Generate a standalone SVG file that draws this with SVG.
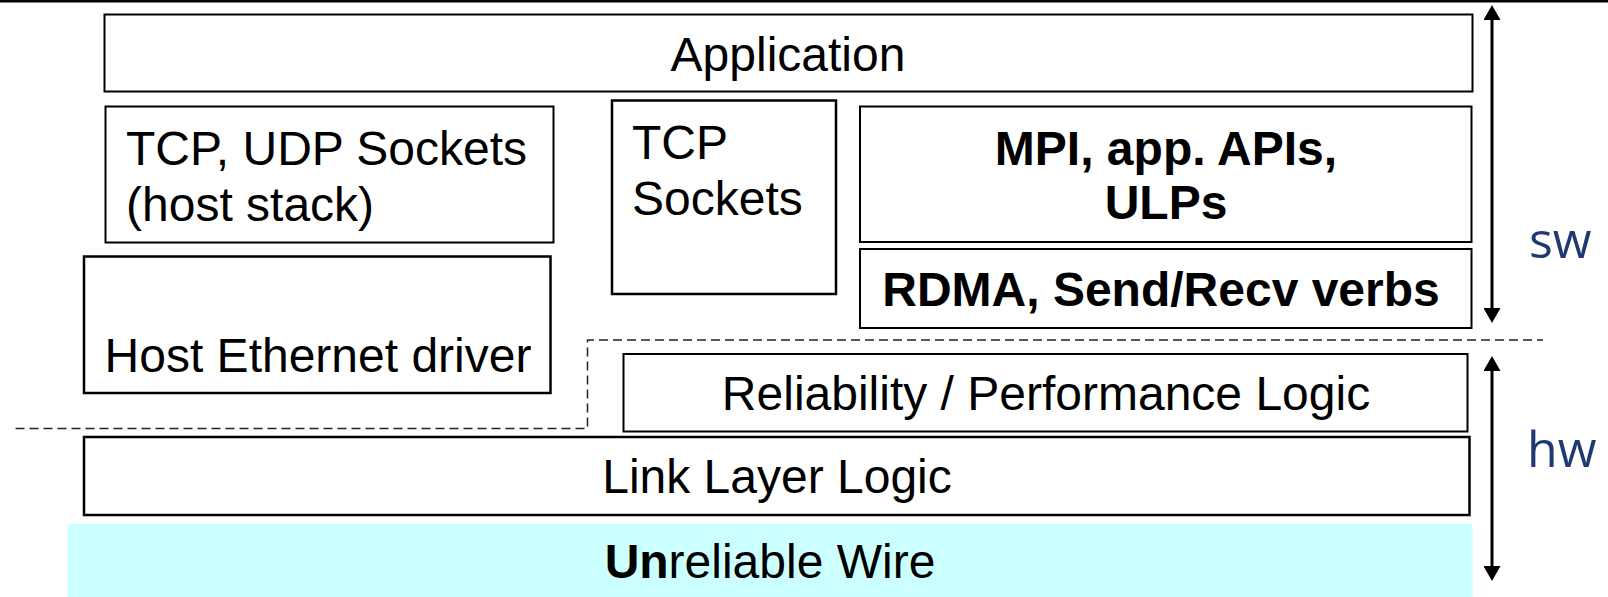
<svg xmlns="http://www.w3.org/2000/svg" width="1608" height="597" viewBox="0 0 1608 597">
  <style>
    .box { fill: #ffffff; stroke: #000000; stroke-width: 2; }
    .wire { fill: #CCFFFF; stroke: none; }
    .t { font-family: "Liberation Sans", Arial, sans-serif; font-size: 48px; fill: #000000; }
    .b { font-weight: bold; }
    .side { font-family: "Open Sans", "Noto Sans", sans-serif; font-size: 50px; fill: #1F3A70; }
    .dash { fill: none; stroke: #222222; stroke-width: 1.5; stroke-dasharray: 9 5; }
    .arrow { stroke: #000000; stroke-width: 3; marker-start: url(#ah); marker-end: url(#ah); }
  </style>
  <defs>
    <marker id="ah" viewBox="0 0 15 17" refX="10" refY="8.5" markerWidth="15" markerHeight="17" markerUnits="userSpaceOnUse" orient="auto-start-reverse">
      <path d="M0,0 L15,8.5 L0,17 Z" fill="#000000"/>
    </marker>
  </defs>

  <rect x="0" y="0" width="1608" height="2.5" fill="#000000"/>

  <g id="application">
    <rect class="box" x="104.5" y="14.5" width="1368" height="77"/>
    <text class="t" x="788" y="71" text-anchor="middle">Application</text>
  </g>

  <g id="tcp-udp-sockets">
    <rect class="box" x="105.5" y="106.5" width="448" height="136"/>
    <text class="t" x="126" y="165">TCP, UDP Sockets</text>
    <text class="t" x="126" y="221">(host stack)</text>
  </g>

  <g id="tcp-sockets">
    <rect class="box" x="612" y="100.5" width="224" height="193.5" style="stroke-width:2.5"/>
    <text class="t" x="632" y="159">TCP</text>
    <text class="t" x="632" y="215">Sockets</text>
  </g>

  <g id="mpi-apis">
    <rect class="box" x="860" y="106.5" width="611.5" height="135.5"/>
    <text class="t b" x="1166" y="165" text-anchor="middle">MPI, app. APIs,</text>
    <text class="t b" x="1166" y="219" text-anchor="middle">ULPs</text>
  </g>

  <g id="rdma-verbs">
    <rect class="box" x="860" y="249" width="611.5" height="79"/>
    <text class="t b" x="1161" y="306" text-anchor="middle">RDMA, Send/Recv verbs</text>
  </g>

  <g id="host-ethernet-driver">
    <rect class="box" x="84" y="256.5" width="466.5" height="136.5" style="stroke-width:2.5"/>
    <text class="t" x="318" y="372" text-anchor="middle">Host Ethernet driver</text>
  </g>

  <g id="reliability-logic">
    <rect class="box" x="623.5" y="354" width="844" height="77.5"/>
    <text class="t" x="1046" y="410" text-anchor="middle">Reliability / Performance Logic</text>
  </g>

  <g id="link-layer-logic">
    <rect class="box" x="84" y="437" width="1385.5" height="78" style="stroke-width:2.5"/>
    <text class="t" x="777" y="493" text-anchor="middle">Link Layer Logic</text>
  </g>

  <g id="unreliable-wire">
    <rect class="wire" x="67.5" y="524" width="1405" height="73"/>
    <text class="t" x="770" y="578" text-anchor="middle"><tspan class="b">Un</tspan>reliable Wire</text>
  </g>

  <g id="boundaries">
    <path class="dash" d="M15.5,428.5 H587.5 V340 H1543"/>
  </g>

  <g id="connectors">
    <line class="arrow" x1="1492" y1="10" x2="1492" y2="318"/>
    <line class="arrow" x1="1492" y1="361" x2="1492" y2="576"/>
  </g>

  <g id="labels">
    <text class="side" x="1529" y="258">sw</text>
    <text class="side" x="1527" y="467">hw</text>
  </g>
</svg>
